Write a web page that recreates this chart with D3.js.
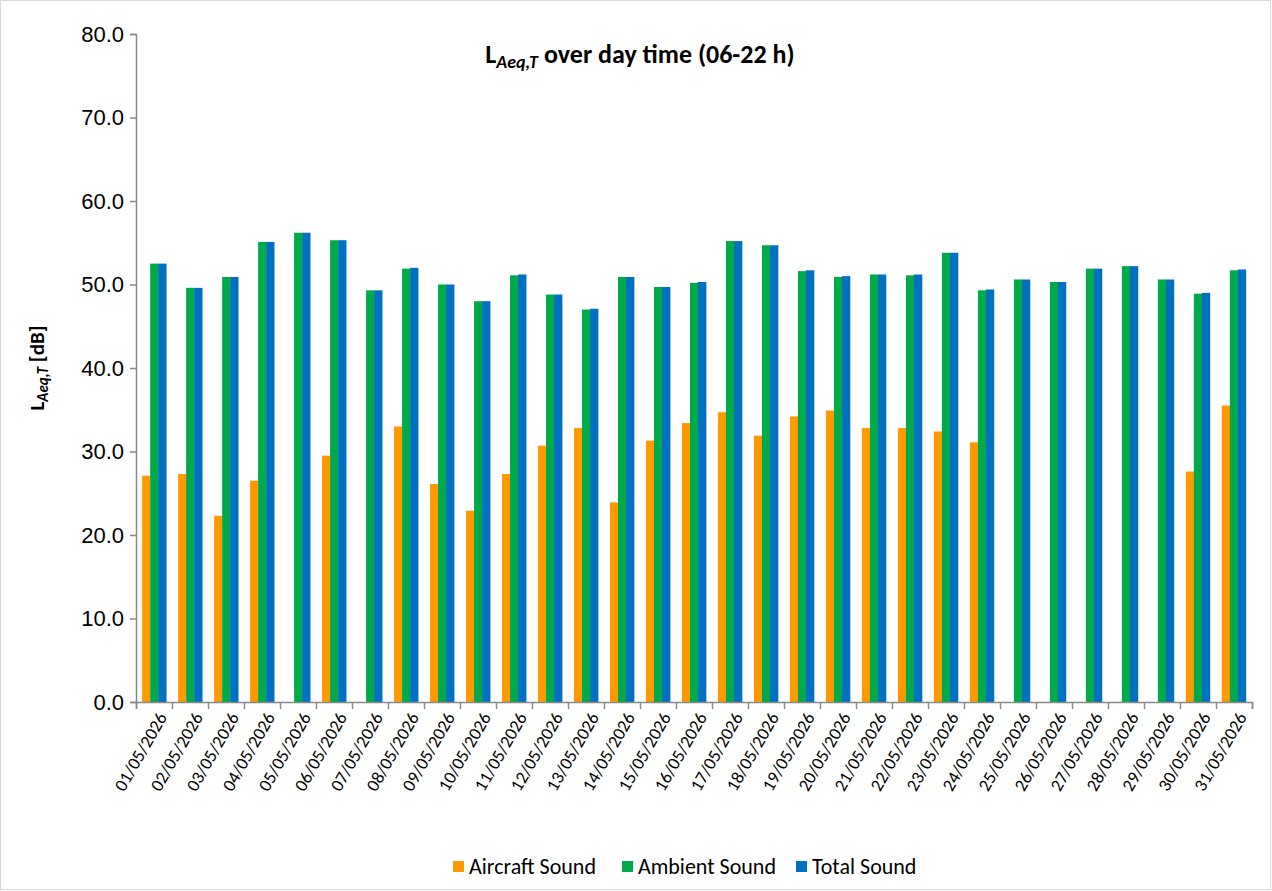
<!DOCTYPE html>
<html><head><meta charset="utf-8">
<script src="https://cdn.jsdelivr.net/npm/d3@7"></script>
<style>body{margin:0;background:#fff}svg{font-family:Carlito,Calibri,"Open Sans",sans-serif}</style>
</head><body><svg id="c" width="1272" height="891"></svg>
<script>
const dates = d3.range(1,32).map(d=>String(d).padStart(2,"0")+"/05/2026");
const aircraft = [27.1,27.3,22.3,26.5,null,29.5,null,33.0,26.1,22.9,27.3,30.7,32.8,23.9,31.3,33.4,34.7,31.9,34.2,34.9,32.8,32.8,32.4,31.1,null,null,null,null,null,27.6,35.5];
const ambient = [52.5,49.6,50.9,55.1,56.2,55.3,49.3,51.9,50.0,48.0,51.1,48.8,47.0,50.9,49.7,50.2,55.2,54.7,51.6,50.9,51.2,51.1,53.8,49.3,50.6,50.3,51.9,52.2,50.6,48.9,51.7];
const total = [52.5,49.6,50.9,55.1,56.2,55.3,49.3,52.0,50.0,48.0,51.2,48.8,47.1,50.9,49.7,50.3,55.2,54.7,51.7,51.0,51.2,51.2,53.8,49.4,50.6,50.3,51.9,52.2,50.6,49.0,51.8];
const seriesNames = ["Aircraft Sound","Ambient Sound","Total Sound"];
const colors = ["#FF9900","#00AA4B","#0070C0"];
const yTicks = d3.range(0,81,10);

const svg = d3.select("#c");
svg.append("rect").attr("x",0.5).attr("y",0.5).attr("width",1270).attr("height",889).attr("fill","#fff").attr("stroke","#d9d9d9");
const L=136,R=1252,T=34,B=702;
const x = d3.scaleBand().domain(dates).range([L,R]).paddingInner(0.33).paddingOuter(0.17);
const xs = d3.scaleBand().domain([0,1,2]).range([0,x.bandwidth()]);
const y = d3.scaleLinear().domain([0,80]).range([B,T]);

const data=[aircraft,ambient,total];
data.forEach((arr,s)=>{
  svg.append("g").selectAll("rect").data(arr.map((v,i)=>({v,i})).filter(d=>d.v!=null)).join("rect")
   .attr("x",d=>x(dates[d.i])+xs(s)).attr("width",xs.bandwidth()+0.3)
   .attr("y",d=>y(d.v)).attr("height",d=>B-y(d.v)).attr("fill",colors[s]);
});
const ya = svg.append("g").attr("transform",`translate(${L},0)`).call(d3.axisLeft(y).tickValues(yTicks).tickFormat(d3.format(".1f")).tickSize(6).tickPadding(6));
ya.selectAll("text").attr("font-size",22).attr("fill","#000");
ya.selectAll("line,path").attr("stroke","#898989").attr("stroke-width",1.5);
const xa = svg.append("g").attr("transform",`translate(0,${B})`).call(d3.axisBottom(d3.scalePoint().domain(d3.range(32)).range([L,R])).tickSize(7).tickFormat(""));
xa.selectAll("line,path").attr("stroke","#898989").attr("stroke-width",1.5);
svg.append("g").selectAll("text").data(dates).join("text")
 .attr("transform",d=>`translate(${x(d)+x.bandwidth()/2+8},${B+12}) rotate(-60)`)
 .attr("text-anchor","end").attr("font-size",18).attr("dy","0.35em").text(d=>d);

const t = svg.append("text").attr("x",640).attr("y",63).attr("text-anchor","middle").attr("font-size",26).attr("font-weight","bold");
t.append("tspan").text("L");
t.append("tspan").attr("font-size",18).attr("font-style","italic").attr("dy",5).text("Aeq,T");
t.append("tspan").attr("dy",-5).text("  over day time (06-22 h)");

const yl = svg.append("text").attr("transform","translate(44,368) rotate(-90)").attr("text-anchor","middle").attr("font-size",21).attr("font-weight","bold");
yl.append("tspan").text("L");
yl.append("tspan").attr("font-size",15).attr("font-style","italic").attr("dy",4).text("Aeq,T");
yl.append("tspan").attr("dy",-4).text(" [dB]");

const lx=[453,622,796];
seriesNames.forEach((n,i)=>{
  svg.append("rect").attr("x",lx[i]).attr("y",861).attr("width",11).attr("height",11).attr("fill",colors[i]);
  svg.append("text").attr("x",lx[i]+16).attr("y",874).attr("font-size",22).text(n);
});
</script></body></html>
